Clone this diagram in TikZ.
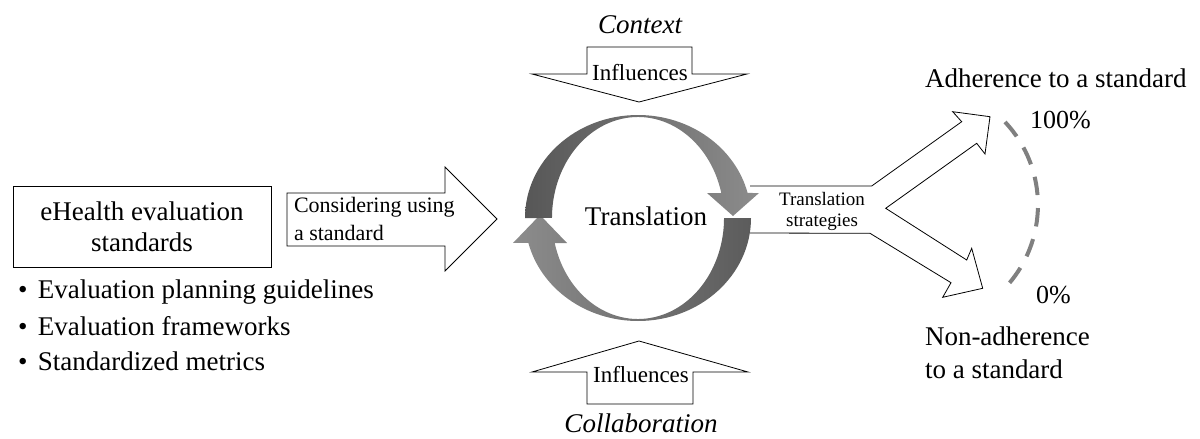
\documentclass[tikz,border=0pt]{standalone}
\usepackage{fontspec}
\setmainfont{Liberation Serif}
\tikzset{
  blockarrow/.style={draw=black, fill=white, line width=0.8pt, line join=miter},
  txt/.style={inner sep=0pt, outer sep=0pt},
  big/.style={font=\fontsize{27}{32}\selectfont},
  mid/.style={font=\fontsize{23}{28}\selectfont},
  small/.style={font=\fontsize{19}{21}\selectfont},
}
\begin{document}
\begin{tikzpicture}[x=1pt,y=-1pt]
\useasboundingbox (0,0) rectangle (1200,439);

% ---- left box and list
\node[draw, line width=0.8pt, minimum width=258pt, minimum height=81pt, inner sep=0pt] (box) at (142,226.5) {};
\node[txt, big, anchor=base] (boxt1) at (142,220) {eHealth evaluation};
\node[txt, big, anchor=base] (boxt2) at (142,251.5) {standards};
\node[txt, big, anchor=base west] (li1) at (18,298) {\makebox[20pt][l]{•}Evaluation planning guidelines};
\node[txt, big, anchor=base west] (li2) at (18,335) {\makebox[20pt][l]{•}Evaluation frameworks};
\node[txt, big, anchor=base west] (li3) at (18,370) {\makebox[20pt][l]{•}Standardized metrics};

% ---- considering arrow
\draw[blockarrow] (287,193) -- (445,193) -- (445,167) -- (497,219) -- (445,271) -- (445,246) -- (287,246) -- cycle;
\node[txt, font=\fontsize{22}{28}\selectfont, anchor=base west] (cons1) at (294,212) {Considering using};
\node[txt, font=\fontsize{22}{28}\selectfont, anchor=base west] (cons2) at (294,240) {a standard};

% ---- top influences arrow
\draw[blockarrow] (587,47) -- (692,47) -- (692,74) -- (747,74) -- (639,102) -- (532,74) -- (587,74) -- cycle;
\node[txt, big, anchor=base] (context) at (640,33) {\itshape Context};
\node[txt, mid, anchor=base] (inftop) at (640,80) {Influences};

% ---- bottom influences arrow
\draw[blockarrow] (639,341) -- (748,372) -- (693,372) -- (693,404) -- (587,404) -- (587,372) -- (532,372) -- cycle;
\node[txt, mid, anchor=base] (infbot) at (641,382) {Influences};
\node[txt, big, anchor=base] (collab) at (641,432) {\itshape Collaboration};

% ---- fork arrow (translation strategies)
\draw[line width=0.8pt, line join=miter] (750,186) -- (871.7,186) -- (961.7,121.7) -- (952.7,111.7) -- (990,116.7) -- (985,154) -- (976.7,143.3) -- (885.7,208.3) -- (966.7,260) -- (971.7,248.3) -- (982.7,288.3) -- (942.7,297.3) -- (951,282.7) -- (870,233.3) -- (750,233);
\node[txt, small, anchor=base] (ts1) at (822,205) {Translation};
\node[txt, small, anchor=base] (ts2) at (822,226) {strategies};

% ---- circular arrows
\shade[left color=black!45, right color=black!64]
  (751,218) arc[start angle=0, end angle=-166.05, x radius=113pt, y radius=103pt]
  -- (513,243) -- (540,215) -- (567,243) -- (554.7,243)
  arc[start angle=-165.67, end angle=0, x radius=86pt, y radius=101pt] -- cycle;
\shade[left color=black!66, right color=black!45]
  (525,218) arc[start angle=180, end angle=14.05, x radius=113pt, y radius=103pt]
  -- (759,193) -- (733,216) -- (707,193) -- (721.3,193)
  arc[start angle=14.33, end angle=180, x radius=86pt, y radius=101pt] -- cycle;
\node[txt, big, anchor=base] (transl) at (646,225) {Translation};

% ---- adherence scale
\draw[line width=4pt, draw=black!50, dash pattern=on 18.5pt off 13pt] (1005,122) arc[start angle=43.3, end angle=-44, radius=121pt];
\node[txt, big, anchor=base west] (adh) at (925,87) {Adherence to a standard};
\node[txt, font=\fontsize{26}{30}\selectfont, anchor=base west] (p100) at (1030,128) {100\%};
\node[txt, font=\fontsize{26}{30}\selectfont, anchor=base west] (p0) at (1036,303) {0\%};
\node[txt, big, anchor=base west] (nonadh1) at (925,345) {Non-adherence};
\node[txt, big, anchor=base west] (nonadh2) at (925,378) {to a standard};
\end{tikzpicture}
\end{document}
